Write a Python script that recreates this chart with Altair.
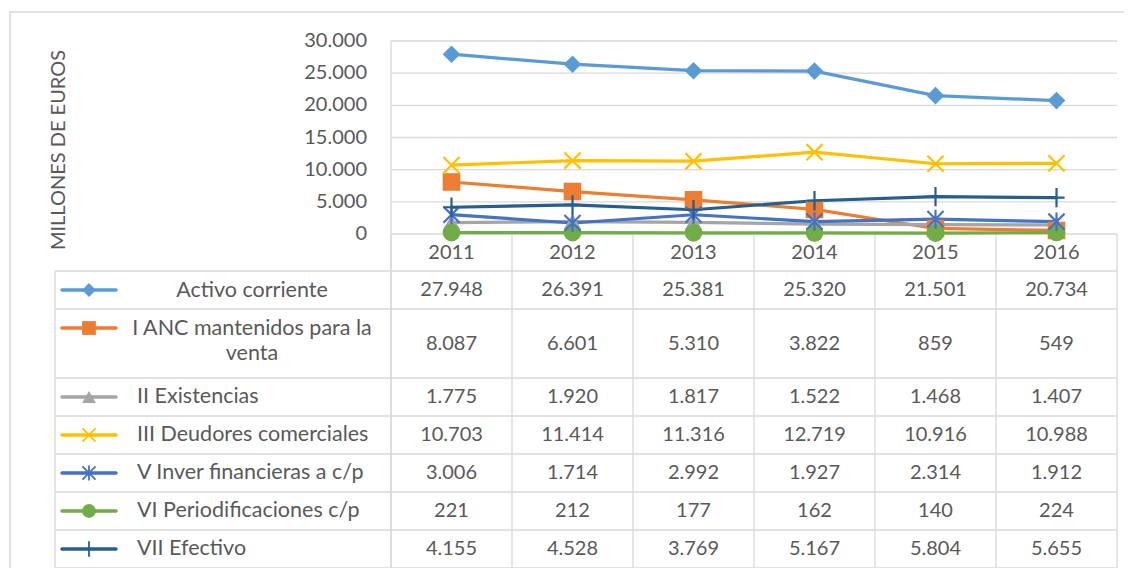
import altair as alt
import pandas as pd

# ---------------- data ----------------
years = ["2011", "2012", "2013", "2014", "2015", "2016"]
series = [
    "Activo corriente",
    "I ANC mantenidos para la venta",
    "II Existencias",
    "III Deudores comerciales",
    "V Inver financieras a c/p",
    "VI Periodificaciones c/p",
    "VII Efectivo",
]
table_labels = [
    "Activo corriente",
    "I ANC mantenidos para la\nventa",
    "II Existencias",
    "III Deudores comerciales",
    "V Inver financieras a c/p",
    "VI Periodificaciones c/p",
    "VII Efectivo",
]
activo = [27948, 26391, 25381, 25320, 21501, 20734]
anc = [8087, 6601, 5310, 3822, 859, 549]
existencias = [1775, 1920, 1817, 1522, 1468, 1407]
deudores = [10703, 11414, 11316, 12719, 10916, 10988]
inver = [3006, 1714, 2992, 1927, 2314, 1912]
periodif = [221, 212, 177, 162, 140, 224]
efectivo = [4155, 4528, 3769, 5167, 5804, 5655]
values = [activo, anc, existencias, deudores, inver, periodif, efectivo]
y_ticks = [0, 5000, 10000, 15000, 20000, 25000, 30000]
y_title = "MILLONES DE EUROS"

# ---------------- style ----------------
colors = ["#5B9BD5", "#ED7D31", "#A5A5A5", "#FFC000", "#4472C4", "#70AD47", "#255E91"]
shapes = [
    "diamond",
    "square",
    "triangle-up",
    "M-1,-1L1,1M-1,1L1,-1",
    "M-1,-1L1,1M-1,1L1,-1M0,-1.15L0,1.15",
    "circle",
    "M-1,0L1,0M0,-1.2L0,1.2",
]
filled_series = [series[i] for i in (0, 1, 2, 5)]
stroked_series = [series[i] for i in (3, 4, 6)]
centered_labels = [series[0], series[1]]

FONT = "Lato"
TXT = "#595959"
GRID = "#D9D9D9"
FS = 20        # numbers
FS_LAB = 21.5  # row labels / title

X0, X1 = 336, 1062          # plot/table year-columns left and right (chart px)
PH = 193                    # plot height
HEAD_TOP, HEAD_BOT = 193, 230
ROW_H1, ROW_EXTRA = 38, 31


def fmt(v):
    return f"{v:,}".replace(",", ".")


# table row layout
tops, bots = [], []
t = HEAD_BOT
for lab in table_labels:
    n = lab.count("\n") + 1
    h = ROW_H1 + ROW_EXTRA * (n - 1)
    tops.append(t)
    bots.append(t + h)
    t += h
TABLE_BOT = t

rows_df = pd.DataFrame({
    "series": series,
    "label": table_labels,
    "top": tops,
    "bottom": bots,
    "cy": [(a + b) / 2 for a, b in zip(tops, bots)],
    "sy": [a + 19 for a in tops],
})

long_rows = []
for s, vals, cy in zip(series, values, rows_df["cy"]):
    for yr, v in zip(years, vals):
        long_rows.append({"series": s, "year": yr, "value": v, "label": fmt(v), "cy": cy})
long_df = pd.DataFrame(long_rows)

xs = alt.Scale(type="band", domain=years, range=[X0, X1], paddingInner=0, paddingOuter=0)
ys = alt.Scale(domain=[0, 30000], range=[PH, 0], nice=False, zero=True)
col = alt.Color("series:N", scale=alt.Scale(domain=series, range=colors), legend=None)
shp = alt.Shape("series:N", scale=alt.Scale(domain=series, range=shapes), legend=None)


def XB(bp=0.5):
    return alt.X("year:O", scale=xs, axis=None, bandPosition=bp)


def YP(field):
    return alt.Y(field, scale=None, axis=None)


years_df = pd.DataFrame({"year": years})
ticks_df = pd.DataFrame({"v": y_ticks, "t": [fmt(v) for v in y_ticks]})
one = pd.DataFrame({"t": [y_title]})

# outer chart-area border
border_left = alt.Chart(one).mark_rule(color=GRID, strokeWidth=1.5).encode(
    x=alt.value(-45), y=alt.value(-30), y2=alt.value(531))
border_top = alt.Chart(one).mark_rule(color=GRID, strokeWidth=1.5).encode(
    x=alt.value(-45), x2=alt.value(1069), y=alt.value(-29))

# gridlines
grid = alt.Chart(ticks_df).mark_rule(color=GRID, strokeWidth=1.3).encode(
    y=alt.Y("v:Q", scale=ys, axis=None), x=alt.value(X0), x2=alt.value(X1))

# y tick labels
ytext = alt.Chart(ticks_df).mark_text(
    align="right", baseline="middle", font=FONT, fontSize=FS, color=TXT
).encode(y=alt.Y("v:Q", scale=ys, axis=None), x=alt.value(312), text="t:N")

# y title
ytitle = alt.Chart(one).mark_text(
    angle=270, align="center", baseline="alphabetic", font=FONT, fontSize=FS, color=TXT
).encode(x=alt.value(10), y=alt.value(109), text="t:N")

# table horizontal lines
hl_df = pd.DataFrame({"y": [HEAD_BOT] + bots})
hlines = alt.Chart(hl_df).mark_rule(color=GRID, strokeWidth=1.3).encode(
    y=YP("y:Q"), x=alt.value(0), x2=alt.value(X1))

# table vertical lines
vl_left = alt.Chart(one).mark_rule(color=GRID, strokeWidth=1.3).encode(
    x=alt.value(0), y=alt.value(HEAD_BOT), y2=alt.value(TABLE_BOT))
vl_plot = alt.Chart(one).mark_rule(color=GRID, strokeWidth=1.3).encode(
    x=alt.value(X0), y=alt.value(0), y2=alt.value(TABLE_BOT))
vl_cols = alt.Chart(years_df).mark_rule(color=GRID, strokeWidth=1.3).encode(
    x=XB(0), y=alt.value(HEAD_TOP), y2=alt.value(TABLE_BOT))
vl_right = alt.Chart(one).mark_rule(color=GRID, strokeWidth=1.3).encode(
    x=alt.value(X1), y=alt.value(HEAD_TOP), y2=alt.value(TABLE_BOT))

# header years
head = alt.Chart(years_df).mark_text(
    baseline="middle", font=FONT, fontSize=FS, color=TXT
).encode(x=XB(), y=alt.value((HEAD_TOP + HEAD_BOT) / 2), text="year:N")

# value cells
cells = alt.Chart(long_df).mark_text(
    baseline="middle", font=FONT, fontSize=FS, color=TXT
).encode(x=XB(), y=YP("cy:Q"), text="label:N")

# row labels
lab_left = alt.Chart(rows_df).transform_filter(
    alt.FieldOneOfPredicate(field="series", oneOf=[s for s in series if s not in centered_labels])
).mark_text(align="left", baseline="middle", font=FONT, fontSize=FS_LAB, color=TXT).encode(
    x=alt.value(82), y=YP("cy:Q"), text="label:N")
lab_center = alt.Chart(rows_df).transform_filter(
    alt.FieldOneOfPredicate(field="series", oneOf=centered_labels)
).mark_text(align="center", baseline="middle", font=FONT, fontSize=FS_LAB, color=TXT,
            lineBreak="\n", lineHeight=25, dy=1).encode(
    x=alt.value(197), y=YP("sy:Q"), text="label:N")

# legend keys
key_line = alt.Chart(rows_df).mark_rule(strokeWidth=3.5, strokeCap="round").encode(
    x=alt.value(7), x2=alt.value(61), y=YP("sy:Q"), color=col)
key_fill = alt.Chart(rows_df).transform_filter(
    alt.FieldOneOfPredicate(field="series", oneOf=filled_series)
).mark_point(filled=True, opacity=1, size=190).encode(
    x=alt.value(34), y=YP("sy:Q"), color=col, shape=shp)
key_stroke = alt.Chart(rows_df).transform_filter(
    alt.FieldOneOfPredicate(field="series", oneOf=stroked_series)
).mark_point(filled=False, opacity=1, size=170, strokeWidth=1.8).encode(
    x=alt.value(34), y=YP("sy:Q"), color=col, shape=shp)

# plot lines + markers
lines = alt.Chart(long_df).mark_line(strokeWidth=3.2, strokeCap="round", strokeJoin="round").encode(
    x=XB(), y=alt.Y("value:Q", scale=ys, axis=None), color=col)
pts_fill = alt.Chart(long_df).transform_filter(
    alt.FieldOneOfPredicate(field="series", oneOf=filled_series)
).mark_point(filled=True, opacity=1, size=310).encode(
    x=XB(), y=alt.Y("value:Q", scale=ys, axis=None), color=col, shape=shp)
pts_stroke = alt.Chart(long_df).transform_filter(
    alt.FieldOneOfPredicate(field="series", oneOf=stroked_series)
).mark_point(filled=False, opacity=1, size=260, strokeWidth=2.2).encode(
    x=XB(), y=alt.Y("value:Q", scale=ys, axis=None), color=col, shape=shp)

chart = alt.layer(
    border_left, border_top, grid, hlines, vl_left, vl_plot, vl_cols, vl_right,
    head, cells, lab_left, lab_center, key_line, key_fill, key_stroke,
    ytext, ytitle, lines, pts_fill, pts_stroke,
).resolve_scale(y="independent").properties(
    width=1062, height=527,
    autosize=alt.AutoSizeParams(type="none"),
    padding={"left": 47, "top": 33, "right": 7, "bottom": 0},
    background="white",
).configure_view(stroke=None)

chart.save("out.html", embed_options={"renderer": "svg", "actions": False})
